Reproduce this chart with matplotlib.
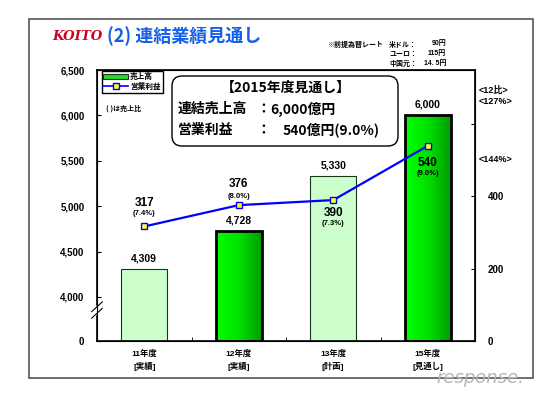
import matplotlib
matplotlib.use("Agg")

import numpy as np
import matplotlib.pyplot as plt
from matplotlib.colors import LinearSegmentedColormap
from matplotlib.lines import Line2D
from matplotlib.patches import FancyBboxPatch, Patch, Rectangle

plt.rcParams["font.family"] = ["Liberation Sans", "Noto Sans CJK JP", "DejaVu Sans"]
plt.rcParams["font.weight"] = "bold"
CJK = ["Noto Sans CJK JP", "DejaVu Sans"]

# data
categories = ["11年度\n[実績]", "12年度\n[実績]", "13年度\n[計画]", "15年度\n[見通し]"]
sales = [4309, 4728, 5330, 6000]            # 億円, left axis
op_profit = [317, 376, 390, 540]            # 億円, right axis
margins = ["(7.4%)", "(8.0%)", "(7.3%)", "(9.0%)"]
actual = [False, True, False, True]         # bold gradient bars
left_ticks = [0, 4000, 4500, 5000, 5500, 6000, 6500]
right_ticks = [0, 200, 400, 600]
right_labels = ["0", "200", "400", ""]

W, H = 553, 395


def px(x, y):
    """pixel position (top-left origin) -> figure fraction"""
    return x / W, 1 - y / H


# broken left axis: 0..4000 squeezed into a short stub
BRK, STUB = 4000, 485


def fwd(v):
    v = np.asarray(v, float)
    return np.where(v >= BRK, v - BRK + STUB, v * STUB / BRK)


def inv(u):
    u = np.asarray(u, float)
    return np.where(u >= STUB, u + BRK - STUB, u * BRK / STUB)


fig = plt.figure(figsize=(W / 100, H / 100), dpi=100)
ax = fig.add_axes([97 / W, 1 - 341 / H, 378 / W, 271 / H])
ax.set_yscale("function", functions=(fwd, inv))

x = np.arange(len(categories))
bw = 0.49
bars = ax.bar(x, sales, width=bw, color="#ccffcc", edgecolor="#1a331a",
              linewidth=0.8, zorder=2)

cmap = LinearSegmentedColormap.from_list("grn", ["#00ff00", "#00e000", "#009a00"])
grad = np.linspace(0, 1, 256).reshape(1, -1)
for b, a in zip(bars, actual):
    if not a:
        continue
    b.set_facecolor("none")
    b.set_edgecolor("black")
    b.set_linewidth(2)
    im = ax.imshow(grad, cmap=cmap, aspect="auto", zorder=1,
                   extent=[b.get_x(), b.get_x() + b.get_width(), 0, b.get_height()])
    im.set_clip_path(b)

ax.set_xlim(-0.5, 3.5)
ax.set_ylim(0, 6500)
ax.set_yticks(left_ticks)
ax.set_yticklabels([f"{t:,}" for t in left_ticks])
ax.set_xticks(x)
ax.set_xticklabels(categories, linespacing=1.6)
ax.set_xticks([0.5, 1.5, 2.5], minor=True)
ax.tick_params(axis="x", which="major", length=0, pad=6, labelsize=6)
ax.tick_params(axis="x", which="minor", direction="in", length=3)
ax.tick_params(axis="y", which="both", direction="in", length=3, labelsize=7, pad=9)
ax.yaxis.set_minor_locator(plt.NullLocator())
for s in ax.spines.values():
    s.set_linewidth(1.2)

for b, v in zip(bars, sales):
    ax.annotate(f"{v:,}", (b.get_x() + b.get_width() / 2, v), xytext=(0, 4),
                textcoords="offset points", ha="center", va="bottom", fontsize=7.5)

# axis break mark on the left spine
yb = (341 - 310) / 271
ax.plot([0, 0], [yb - 0.012, yb + 0.012], color="white", lw=2.5,
        transform=ax.transAxes, clip_on=False, zorder=5)
for dy in (-0.012, 0.012):
    ax.plot([-0.014, 0.014], [yb + dy - 0.018, yb + dy + 0.018], color="black", lw=0.8,
            transform=ax.transAxes, clip_on=False, zorder=6)

# operating profit on the right axis
ax2 = ax.twinx()
ax2.plot(x, op_profit, color="#0000ff", lw=1.6, marker="s", ms=4.5,
         mfc="#ffff33", mec="#0000ff", mew=1, zorder=4)
ax2.set_ylim(0, 750)
ax2.set_yticks(right_ticks)
ax2.set_yticklabels(right_labels)
ax2.tick_params(axis="y", direction="in", length=3, labelsize=7, pad=9)

offsets = [(17, 9), (15, 6), (-9, -17), (-12, -20)]
for xi, v, m, (o1, o2) in zip(x, op_profit, margins, offsets):
    ax2.annotate(str(v), (xi, v), xytext=(0, o1), textcoords="offset points",
                 ha="center", va="center", fontsize=8.5)
    ax2.annotate(m, (xi, v), xytext=(0, o2), textcoords="offset points",
                 ha="center", va="center", fontsize=5.5)

# legend
handles = [Patch(facecolor="#22dd22", edgecolor="#1a331a", lw=0.8),
           Line2D([], [], color="#0000ff", lw=1.2, marker="s", ms=4,
                  mfc="#ffff33", mec="#0000ff")]
leg = ax.legend(handles, ["売上高", "営業利益"], loc="upper left",
                bbox_to_anchor=(0.012, 0.995), fontsize=5.5, fancybox=False,
                edgecolor="black", framealpha=1, borderpad=0.25, labelspacing=0.2,
                handlelength=3.2, handleheight=0.6, handletextpad=0.3,
                borderaxespad=0)
leg.get_frame().set_linewidth(1)
fig.text(*px(106, 108), "( )は売上比", fontsize=5, va="center", family=CJK)

# 2015 outlook box
box = FancyBboxPatch((1.74, 2.51), 2.22, 0.66,
                     boxstyle="round,pad=0.02,rounding_size=0.1",
                     transform=fig.dpi_scale_trans, facecolor="white",
                     edgecolor="black", lw=1, zorder=3)
fig.add_artist(box)
box_text = [(286, 88, "【2015年度見通し】", "center"),
            (178, 109, "連結売上高", "left"), (256, 109, "：", "left"),
            (270, 109, "6,000億円", "left"),
            (178, 130, "営業利益", "left"), (256, 130, "：", "left"),
            (283, 130, "540億円(9.0%)", "left")]
for bx, by, s, ha in box_text:
    fig.text(*px(bx, by), s, fontsize=10, ha=ha, va="center", zorder=4, family=CJK)

# right-side ratio notes
fig.text(*px(479, 90), "<12比>", fontsize=6.5, va="center")
fig.text(*px(479, 102), "<127%>", fontsize=6.5, va="center")
fig.text(*px(479, 160), "<144%>", fontsize=6.5, va="center")

# header
fig.text(*px(52, 36), "KOITO", fontsize=9.5, color="#cc0022", style="italic",
         family="DejaVu Serif", weight="bold", va="center")
fig.text(*px(107, 36), "(2) 連結業績見通し", fontsize=13, color="#1560e8",
         va="center", family=CJK)
fig.text(*px(383, 44), "※前提為替レート", fontsize=5, ha="right", va="center", family=CJK)
for yy, lab, val in [(44, "米ドル：", "90円"), (53, "ユーロ：", "115円"), (63, "中国元：", "14. 5円")]:
    fig.text(*px(389, yy), lab, fontsize=5, va="center", family=CJK)
    fig.text(*px(446, yy), val, fontsize=5, ha="right", va="center")

# slide frame and watermark
fig.add_artist(Rectangle(px(29, 378), (533 - 29) / W, (378 - 19) / H,
                         transform=fig.transFigure, fill=False,
                         edgecolor="#555555", lw=1.2, zorder=0))
fig.text(*px(436, 378), "response.", fontsize=13, color="#b5b5b5", style="italic",
         family="DejaVu Sans", weight="normal", va="center", zorder=6)

fig.savefig("out.png", dpi=100)
